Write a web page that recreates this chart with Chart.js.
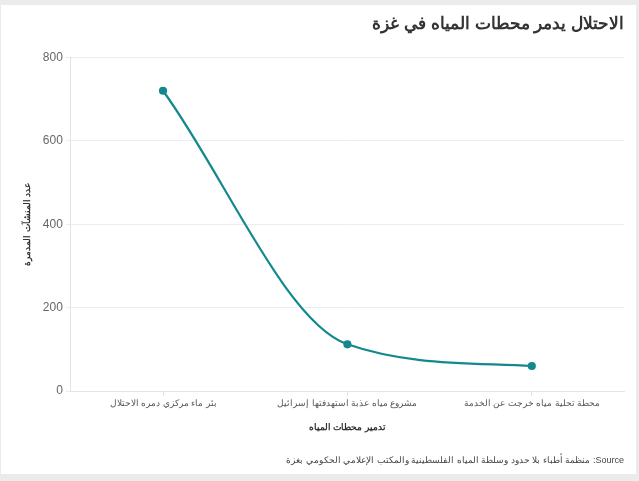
<!DOCTYPE html>
<html lang="ar">
<head>
<meta charset="utf-8">
<script src="https://cdn.jsdelivr.net/npm/chart.js@4.4.1/dist/chart.umd.min.js"></script>
<style>
  html, body { margin: 0; padding: 0; background: #ebebeb; }
  #card {
    position: absolute; left: 1px; top: 5px;
    width: 635px; height: 469px; background: #ffffff;
  }
</style>
</head>
<body>
<div id="card"><canvas id="waterChart"></canvas></div>
<script>
// البيانات
const categories = [
    'بئر ماء مركزي دمره الاحتلال',
    'مشروع مياه عذبة استهدفتها إسرائيل',
    'محطة تحلية مياه خرجت عن الخدمة'
];
const destroyedCounts = [720, 112, 60];
const yTicks = [0, 200, 400, 600, 800];

const chartTitle = 'الاحتلال يدمر محطات المياه في غزة';
// RLE ... PDF so the line reads right-to-left like the original
const sourceText = '\u202BSource: منظمة أطباء بلا حدود وسلطة المياه الفلسطينية والمكتب الإعلامي الحكومي بغزة\u202C';
const xTitle = 'تدمير محطات المياه';
const yTitle = 'عدد المنشآت المدمرة';

const font = '"Liberation Sans", Arial, sans-serif';
const teal = '#12898f';

const ctx = document.getElementById('waterChart').getContext('2d');
const waterChart = new Chart(ctx, {
    type: 'line',
    data: {
        labels: categories,
        datasets: [{
            data: destroyedCounts,
            borderColor: teal,
            backgroundColor: teal,
            borderWidth: 2.2,
            pointRadius: 3,
            pointHoverRadius: 4,
            cubicInterpolationMode: 'monotone',
            fill: false
        }]
    },
    options: {
        responsive: true,
        maintainAspectRatio: false,
        animation: false,
        layout: {
            padding: { left: 21, right: 12, top: 6, bottom: 8 }
        },
        scales: {
            x: {
                offset: true,
                grid: {
                    offset: false,
                    drawOnChartArea: false,
                    tickLength: 5,
                    color: '#e3e3e3'
                },
                border: { color: '#e3e3e3' },
                ticks: {
                    color: '#555',
                    font: { family: font, size: 9 },
                    maxRotation: 0,
                    padding: 2
                },
                title: {
                    display: true,
                    text: xTitle,
                    color: '#333',
                    font: { family: font, size: 9, weight: 'bold' },
                    padding: { top: 11, bottom: 0 }
                }
            },
            y: {
                min: 0,
                max: 800,
                afterBuildTicks: function(scale) {
                    scale.ticks = yTicks.map(v => ({ value: v }));
                },
                grid: {
                    color: '#ececec',
                    tickLength: 5
                },
                border: { color: '#e3e3e3' },
                ticks: {
                    color: '#666',
                    font: { family: font, size: 12 },
                    padding: 3
                },
                title: {
                    display: true,
                    text: yTitle,
                    color: '#333',
                    font: { family: font, size: 9, weight: 'bold' },
                    padding: { top: 0, bottom: 7 }
                }
            }
        },
        plugins: {
            legend: { display: false },
            title: {
                display: true,
                text: chartTitle,
                align: 'end',
                color: '#333',
                font: { family: font, size: 17, weight: 'bold' },
                padding: { top: 3, bottom: 23 }
            },
            subtitle: {
                display: true,
                text: sourceText,
                position: 'bottom',
                align: 'end',
                color: '#444',
                font: { family: font, size: 9 },
                padding: { top: 22.6, bottom: 0 }
            },
            tooltip: {
                callbacks: {
                    label: function(tooltipItem) {
                        return ' ' + tooltipItem.raw;
                    }
                }
            }
        }
    }
});
</script>
</body>
</html>
